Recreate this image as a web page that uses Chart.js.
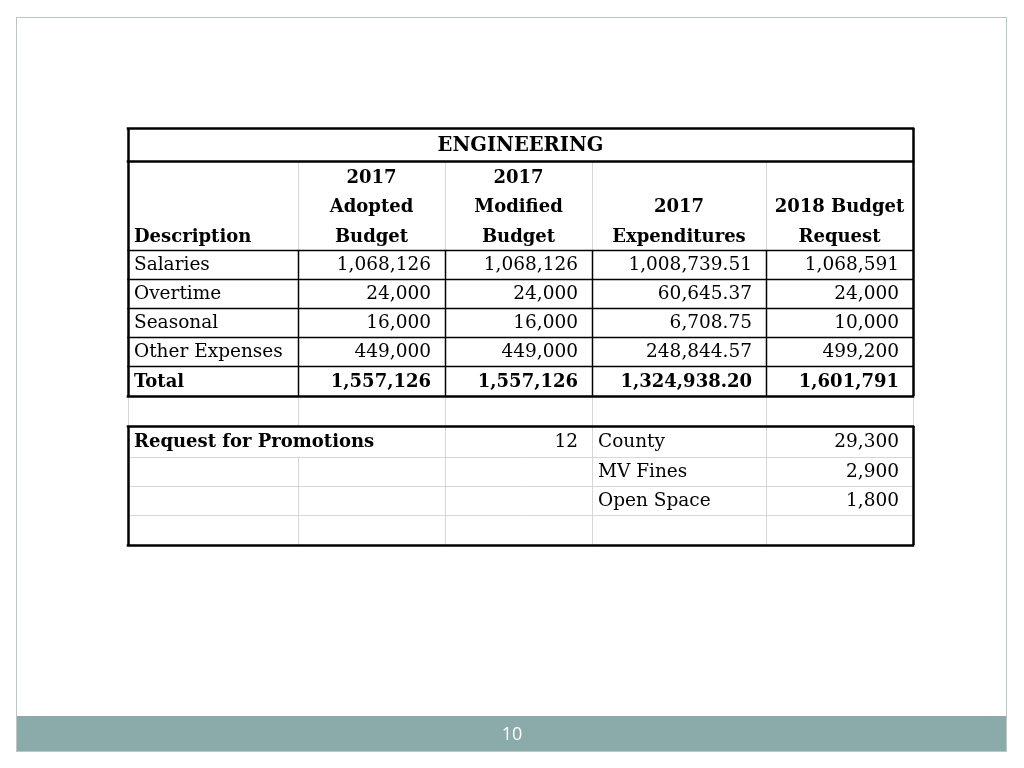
<!DOCTYPE html>
<html>
<head>
<meta charset="utf-8">
<title>Engineering budget</title>
<script src="https://cdn.jsdelivr.net/npm/chart.js@4"></script>
<style>
  html, body { margin: 0; padding: 0; background: #fff; }
  #wrap { position: absolute; left: 0; top: 0; width: 1024px; height: 768px; }
</style>
</head>
<body>
<div id="wrap"><canvas id="sheet" width="1024" height="768"></canvas></div>
<script>
'use strict';

// --- values ---
const tableTitle = 'ENGINEERING';
const headerLines = [
  ['', '', 'Description'],
  ['2017', 'Adopted', 'Budget'],
  ['2017', 'Modified', 'Budget'],
  ['', '2017', 'Expenditures'],
  ['', '2018 Budget', 'Request'],
];
const descriptions = ['Salaries', 'Overtime', 'Seasonal', 'Other Expenses'];
const adopted2017 = [1068126, 24000, 16000, 449000];
const modified2017 = [1068126, 24000, 16000, 449000];
const expenditures2017 = [1008739.51, 60645.37, 6708.75, 248844.57];
const request2018 = [1068591, 24000, 10000, 499200];
const totalLabel = 'Total';
const totals = [1557126, 1557126, 1324938.2, 1601791];
const decimals = [0, 0, 2, 0];

const promotionsLabel = 'Request for Promotions';
const promotions = 12;
const fundingSources = ['County', 'MV Fines', 'Open Space'];
const fundingAmounts = [29300, 2900, 1800];

const pageNumber = '10';

// --- sheet layout (scale units = px of the original slide) ---
const COL_EDGES = [0, 170, 317, 464, 638, 785];
const ROW_EDGES = [0, 33, 122, 151, 180, 209, 238, 268, 298, 329, 358, 387, 417];
// row index of each band
const R_TITLE = 0, R_HEAD = 1, R_DATA = 2, R_TOTAL = 6, R_GAP = 7, R_PROMO = 8;

const FONT = '"DejaVu Serif", serif';
const FS = 18.5;      // regular cells
const FS_BOLD = 18;   // bold cells
const FS_TITLE = 19.5;
const INK = '#000';
const GRIDC = '#d6d6d6';

function fmt(v, d) {
  return v.toLocaleString('en-US', { minimumFractionDigits: d, maximumFractionDigits: d });
}

const sheetPlugin = {
  id: 'sheet',
  beforeDraw(chart) {
    const ctx = chart.ctx;
    ctx.save();
    ctx.fillStyle = '#fff';
    ctx.fillRect(0, 0, chart.width, chart.height);
    // slide frame + footer band
    ctx.strokeStyle = '#bcc6c6';
    ctx.lineWidth = 1;
    ctx.strokeRect(16.5, 17.5, 990, 734);
    ctx.fillStyle = '#8babaa';
    ctx.fillRect(17, 716, 989, 35);
    ctx.fillStyle = '#fff';
    ctx.font = '18px "Open Sans", sans-serif';
    ctx.textAlign = 'center';
    ctx.textBaseline = 'middle';
    ctx.fillText(pageNumber, 512, 735);
    ctx.restore();
  },
  afterDraw(chart) {
    const ctx = chart.ctx;
    const xs = chart.scales.x, ys = chart.scales.y;
    const X = (i) => Math.round(xs.getPixelForValue(COL_EDGES[i]));
    const Y = (i) => Math.round(ys.getPixelForValue(ROW_EDGES[i]));
    const midY = (r) => (Y(r) + Y(r + 1)) / 2 + 1;

    function hLine(r, c0, c1, w, color) {
      ctx.beginPath();
      ctx.strokeStyle = color;
      ctx.lineWidth = w;
      const y = Y(r) + (w % 2 ? 0.5 : 0);
      ctx.moveTo(X(c0) - (w > 1 ? w / 2 : 0), y);
      ctx.lineTo(X(c1) + (w > 1 ? w / 2 : 0), y);
      ctx.stroke();
    }
    function vLine(c, r0, r1, w, color) {
      ctx.beginPath();
      ctx.strokeStyle = color;
      ctx.lineWidth = w;
      const x = X(c) + (w % 2 ? 0.5 : 0);
      ctx.moveTo(x, Y(r0));
      ctx.lineTo(x, Y(r1));
      ctx.stroke();
    }
    function text(str, c, r, align, bold, yOverride) {
      ctx.font = (bold ? 'bold ' + FS_BOLD : FS) + 'px ' + FONT;
      ctx.fillStyle = INK;
      ctx.textBaseline = 'middle';
      ctx.textAlign = align;
      let x;
      if (align === 'left') x = X(c) + 6;
      else if (align === 'right') x = X(c + 1) - 14;
      else x = (X(c) + X(c + 1)) / 2;
      ctx.fillText(str, x, yOverride !== undefined ? yOverride : midY(r));
    }

    ctx.save();

    // light grid first
    for (let c = 1; c < 5; c++) vLine(c, R_HEAD, R_DATA, 1, GRIDC);
    for (let c = 0; c <= 5; c++) vLine(c, R_GAP, R_GAP + 1, 1, GRIDC);
    for (let c = 1; c < 5; c++) vLine(c, c === 1 ? R_PROMO + 1 : R_PROMO, ROW_EDGES.length - 1, 1, GRIDC);
    for (let r = R_PROMO + 1; r < ROW_EDGES.length - 1; r++) hLine(r, 0, 5, 1, GRIDC);

    // black rules of the budget block
    for (let r = R_DATA; r <= R_TOTAL; r++) hLine(r, 0, 5, 1.5, INK);
    for (let c = 1; c < 5; c++) vLine(c, R_DATA, R_GAP, 1.5, INK);
    hLine(R_TITLE, 0, 5, 2.5, INK);
    hLine(R_HEAD, 0, 5, 2.5, INK);
    hLine(R_GAP, 0, 5, 2.5, INK);
    vLine(0, R_TITLE, R_GAP, 2.5, INK);
    vLine(5, R_TITLE, R_GAP, 2.5, INK);

    // promotions block frame
    const last = ROW_EDGES.length - 1;
    hLine(R_PROMO, 0, 5, 2.5, INK);
    hLine(last, 0, 5, 2.5, INK);
    vLine(0, R_PROMO, last, 2.5, INK);
    vLine(5, R_PROMO, last, 2.5, INK);

    // title
    ctx.font = 'bold ' + FS_TITLE + 'px ' + FONT;
    ctx.fillStyle = INK;
    ctx.textAlign = 'center';
    ctx.textBaseline = 'middle';
    ctx.fillText(tableTitle, (X(0) + X(5)) / 2, midY(R_TITLE));

    // header, three lines each
    const hTop = Y(R_HEAD), hBot = Y(R_DATA);
    const lineH = (hBot - hTop) / 3;
    headerLines.forEach((lines, c) => {
      lines.forEach((s, k) => {
        if (!s) return;
        text(s, c, R_HEAD, c === 0 ? 'left' : 'center', true, hTop + lineH * (k + 0.5) + 2);
      });
    });

    // body
    const cols = [adopted2017, modified2017, expenditures2017, request2018];
    descriptions.forEach((d, i) => {
      const r = R_DATA + i;
      text(d, 0, r, 'left', false);
      cols.forEach((arr, j) => text(fmt(arr[i], decimals[j]), j + 1, r, 'right', false));
    });
    text(totalLabel, 0, R_TOTAL, 'left', true);
    totals.forEach((v, j) => text(fmt(v, decimals[j]), j + 1, R_TOTAL, 'right', true));

    // promotions block
    text(promotionsLabel, 0, R_PROMO, 'left', true);
    text(String(promotions), 2, R_PROMO, 'right', false);
    fundingSources.forEach((s, i) => {
      text(s, 3, R_PROMO + i, 'left', false);
      text(fmt(fundingAmounts[i], 0), 4, R_PROMO + i, 'right', false);
    });

    ctx.restore();
  },
};

new Chart(document.getElementById('sheet').getContext('2d'), {
  type: 'scatter',
  data: { datasets: [{ data: [] }] },
  options: {
    responsive: false,
    animation: false,
    events: [],
    layout: { padding: { left: 128, top: 128, right: 111, bottom: 223 } },
    plugins: { legend: { display: false }, tooltip: { enabled: false } },
    scales: {
      x: { type: 'linear', display: false, min: 0, max: COL_EDGES[COL_EDGES.length - 1] },
      y: { type: 'linear', display: false, reverse: true, min: 0, max: ROW_EDGES[ROW_EDGES.length - 1] },
    },
  },
  plugins: [sheetPlugin],
});
</script>
</body>
</html>
